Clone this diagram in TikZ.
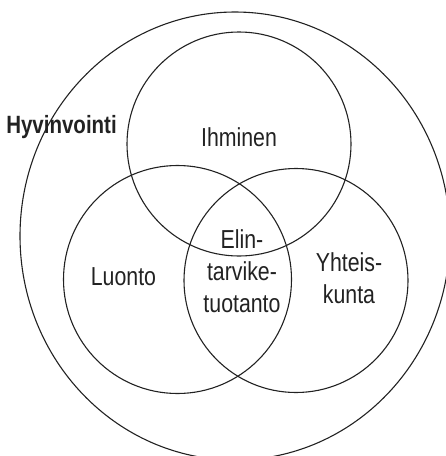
\documentclass[tikz,border=0pt]{standalone}
\usepackage{fontspec}
\setmainfont{Liberation Sans}[FakeStretch=0.82]
\usetikzlibrary{shapes.geometric}
\definecolor{inkc}{HTML}{222222}
\begin{document}
\begin{tikzpicture}[x=1pt,y=-1pt,
  ring/.style={circle, draw=inkc, line width=1.1pt, inner sep=0pt, outer sep=0pt, minimum size=#1},
  lbl/.style={text=inkc, font=\fontsize{26}{32}\selectfont, align=center, anchor=base, inner sep=0pt}]
\useasboundingbox (0,0) rectangle (446,456);
\clip (0,0) rectangle (446,456);
\node[ellipse, draw=inkc, line width=1.1pt, inner sep=0pt, outer sep=0pt, minimum width=430pt, minimum height=448pt] (outer) at (235,236) {};
\node[ring=224pt] (ih) at (239,144) {};
\node[ring=228pt] (lu) at (177.5,279.5) {};
\node[ring=224pt] (yh) at (296,280.5) {};
\node[lbl, font=\fontsize{25}{30}\selectfont\bfseries] (hyv) at (61.5,133) {Hyvinvointi};
\node[lbl] (ihl) at (239,146) {Ihminen};
\node[lbl] (lul) at (123.5,285) {Luonto};
\node[lbl] (ell) at (242,312) {Elin-\\tarvike-\\tuotanto};
\node[lbl] (yhl) at (349,303) {Yhteis-\\kunta};
\end{tikzpicture}
\end{document}
